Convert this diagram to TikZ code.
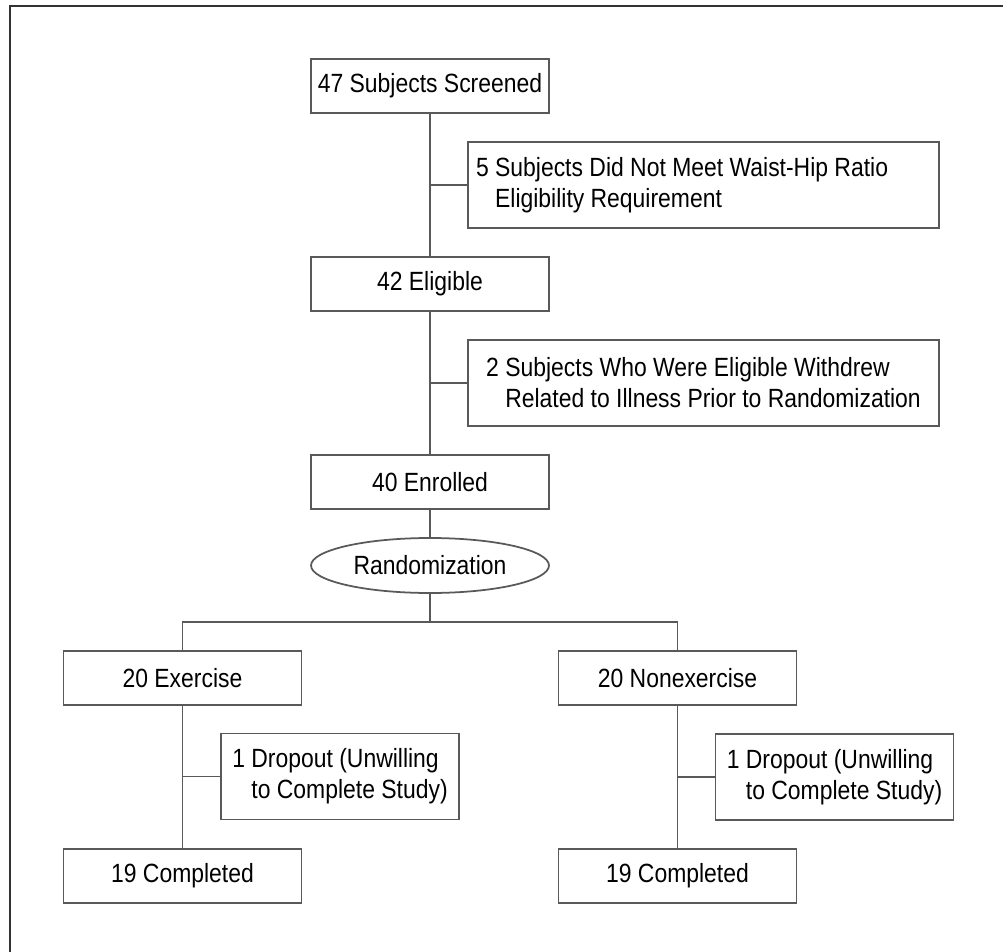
\documentclass[tikz,border=0pt]{standalone}
\usepackage{fontspec}
\setmainfont{Liberation Sans}[FakeStretch=0.87]
\usetikzlibrary{shapes.geometric}

\begin{document}
\begin{tikzpicture}[x=0.02cm, y=-0.02cm, draw=black!65, line width=1pt]
	\tikzstyle{box}=[rectangle, draw=black!65, fill=white, minimum width=4.76cm, minimum height=1.08cm, inner sep=0pt, text=black, font=\fontsize{15}{17.6}\selectfont]
	\tikzstyle{side}=[box, minimum height=1.72cm, align=flush left]
	\tikzstyle{oval}=[box, ellipse, minimum height=1.1cm]
	\tikzstyle{frame}=[draw=black!80, line width=1.6pt]

	\useasboundingbox (0,0) rectangle (1003,952);
	% Outer frame
	\draw[frame] (10,952) -- (10,6) -- (1003,6);

	% Draw main column
	\node[box] (screened) at (430,86) {47 Subjects Screened};
	\node[side, minimum width=9.42cm, text width=9.1cm] (excl) at (703.5,185) {5 Subjects Did Not Meet Waist-Hip Ratio\\\phantom{5 }Eligibility Requirement};
	\node[box] (eligible) at (430,284) {42 Eligible};
	\node[side, minimum width=9.42cm] (withdrew) at (703.5,383) {2 Subjects Who Were Eligible Withdrew\\\phantom{2 }Related to Illness Prior to Randomization};
	\node[box] (enrolled) at (430,482) {40 Enrolled};
	\node[oval] (rand) at (430,565.5) {Randomization};
	\coordinate (split) at (430,622);

	% Draw the two arms
	\node[box] (exercise) at (182.5,678) {20 Exercise};
	\node[side] (drop1) at (340,776.5) {1 Dropout (Unwilling\\\phantom{1 }to Complete Study)};
	\node[box] (done1) at (182.5,876) {19 Completed};
	\node[box] (nonex) at (677.5,678) {20 Nonexercise};
	\node[side] (drop2) at (834.5,777) {1 Dropout (Unwilling\\\phantom{1 }to Complete Study)};
	\node[box] (done2) at (677.5,876) {19 Completed};

	% Draw lines
	\draw (screened) -- (eligible);
	\draw (excl.west) -- (excl.west -| screened.south);
	\draw (eligible) -- (enrolled);
	\draw (withdrew.west) -- (withdrew.west -| eligible.south);
	\draw (enrolled) -- (rand);
	\draw (rand) -- (split);
	\draw (exercise.north) |- (split) -| (nonex.north);
	\draw (exercise) -- (done1);
	\draw (drop1.west) -- (drop1.west -| exercise.south);
	\draw (nonex) -- (done2);
	\draw (drop2.west) -- (drop2.west -| nonex.south);

\end{tikzpicture}
\end{document}
